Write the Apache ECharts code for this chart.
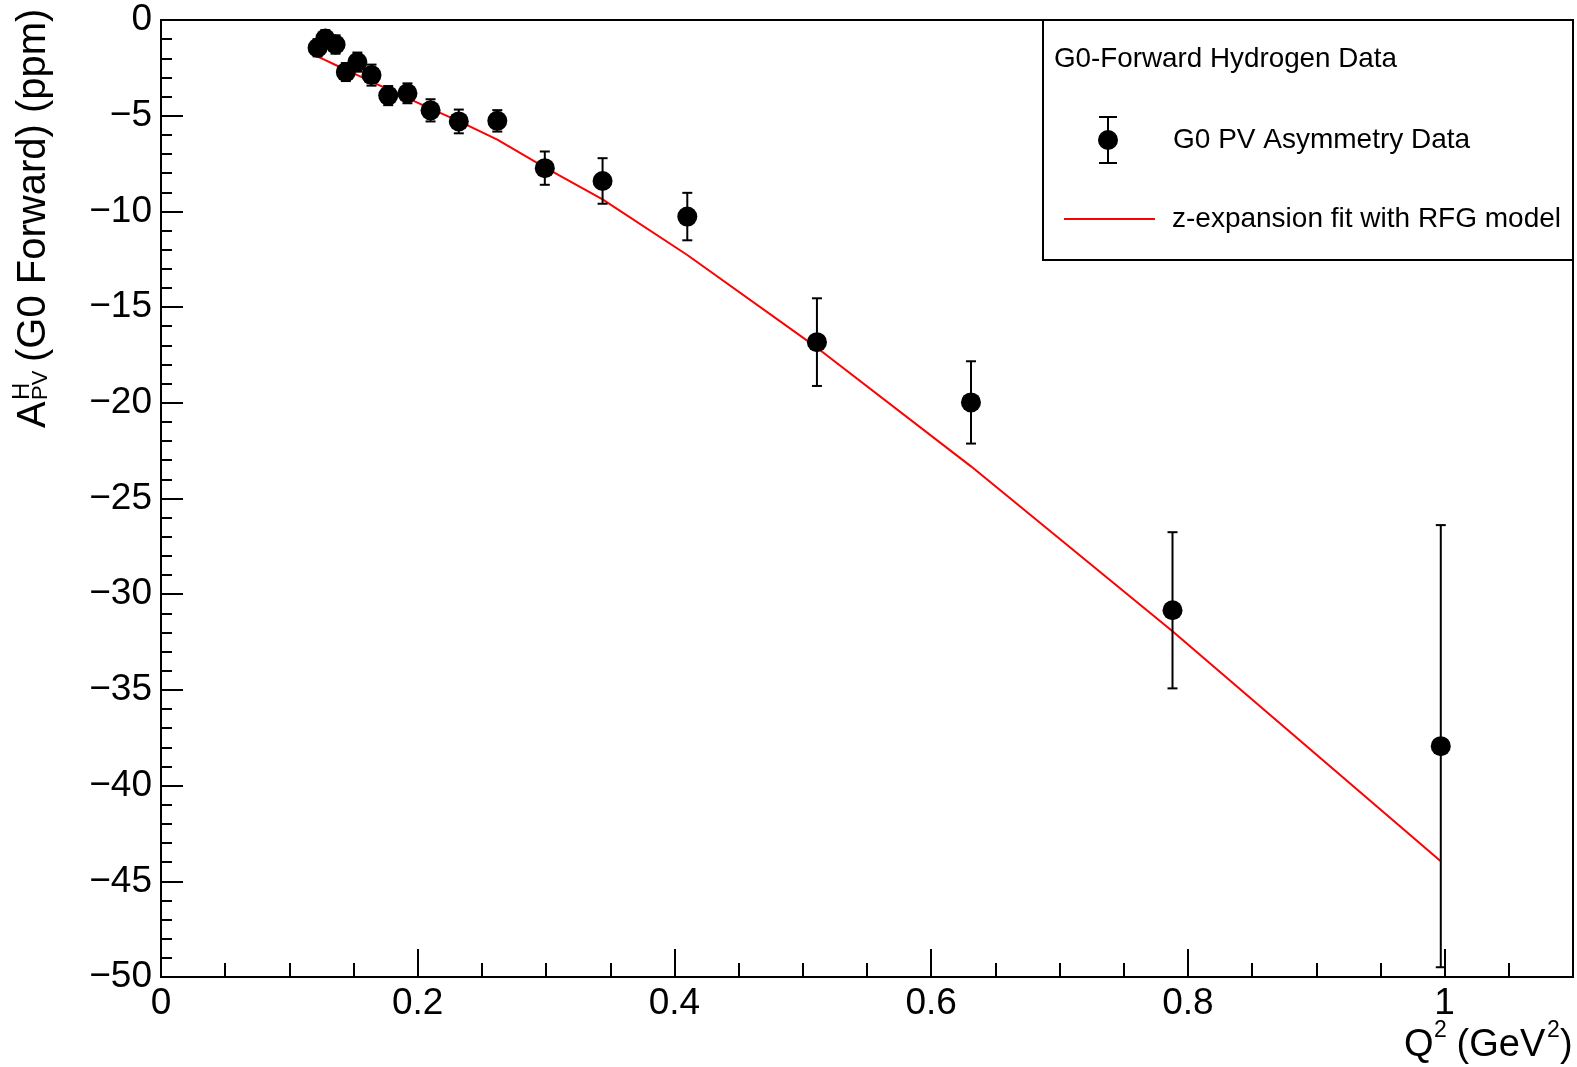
<!DOCTYPE html>
<html>
<head>
<meta charset="utf-8">
<script src="https://cdn.jsdelivr.net/npm/echarts@6/dist/echarts.min.js"></script>
<style>
html,body{margin:0;padding:0;background:#fff;}
#chart{width:1577px;height:1067px;}
</style>
</head>
<body>
<div id="chart"></div>
<script>
// Q^2 (GeV^2) of each G0 forward bin
const q2 = [0.122, 0.128, 0.136, 0.144, 0.153, 0.164, 0.177, 0.192, 0.210, 0.232, 0.262, 0.299, 0.344, 0.410, 0.511, 0.631, 0.788, 0.997];
// measured PV asymmetry (ppm)
const asym = [-1.45, -0.97, -1.28, -2.72, -2.20, -2.88, -3.95, -3.83, -4.72, -5.30, -5.27, -7.74, -8.41, -10.27, -16.83, -19.98, -30.84, -37.94];
// total uncertainty (ppm)
const asymErr = [0.45, 0.44, 0.48, 0.47, 0.50, 0.55, 0.50, 0.52, 0.58, 0.62, 0.56, 0.87, 1.19, 1.24, 2.29, 2.15, 4.08, 11.55];
// z-expansion fit with RFG model evaluated at each Q^2
const fitVals = [-1.91, -2.10, -2.35, -2.60, -2.88, -3.22, -3.62, -4.08, -4.63, -5.28, -6.25, -7.70, -9.37, -12.28, -17.12, -23.32, -31.94, -43.95];

const xTickLabels = ['0', '0.2', '0.4', '0.6', '0.8', '1'];

const FONT = "'Liberation Sans', Arial, Helvetica, sans-serif";

const chart = echarts.init(document.getElementById('chart'), null, {renderer: 'canvas'});

const errData = q2.map((x, i) => [x, asym[i], asymErr[i]]);
const ptData = q2.map((x, i) => [x, asym[i]]);
const fitData = q2.map((x, i) => [x, fitVals[i]]);

const tickStyle = {color: '#000', width: 2};

const option = {
  backgroundColor: '#fff',
  animation: false,
  grid: {left: 161, top: 20, right: 4, bottom: 90, show: true, borderColor: '#000', borderWidth: 2, backgroundColor: 'transparent'},
  xAxis: [
    {
      type: 'value', min: 0, max: 1.1, interval: 0.2, position: 'bottom',
      axisLine: {show: true, onZero: false, lineStyle: tickStyle},
      axisTick: {show: true, inside: true, length: 28, lineStyle: tickStyle},
      axisLabel: {
        show: true, showMaxLabel: false, fontSize: 37, fontFamily: FONT, color: '#000', margin: 8,
        formatter: v => { const k = Math.round(v / 0.2); return xTickLabels[k] !== undefined ? xTickLabels[k] : ''; }
      },
      splitLine: {show: false}
    },
    {
      type: 'value', min: 0, max: 1.1, interval: 0.05, position: 'bottom', offset: 0,
      axisLine: {show: false, onZero: false},
      axisTick: {show: true, inside: true, length: 14, lineStyle: tickStyle},
      axisLabel: {show: false},
      splitLine: {show: false}
    }
  ],
  yAxis: [
    {
      type: 'value', min: -50, max: 0, interval: 5, position: 'left',
      axisLine: {show: true, onZero: false, lineStyle: tickStyle},
      axisTick: {show: true, inside: true, length: 22, lineStyle: tickStyle},
      axisLabel: {
        show: true, fontSize: 37, fontFamily: FONT, color: '#000', margin: 9,
        formatter: v => v === 0 ? '0' : (v < 0 ? '\u2212' + Math.abs(v) : String(v))
      },
      splitLine: {show: false}
    },
    {
      type: 'value', min: -50, max: 0, interval: 1, position: 'left', offset: 0,
      axisLine: {show: false, onZero: false},
      axisTick: {show: true, inside: true, length: 11, lineStyle: tickStyle},
      axisLabel: {show: false},
      splitLine: {show: false}
    }
  ],
  series: [
    {
      type: 'line', name: 'fit', data: fitData, xAxisIndex: 0, yAxisIndex: 0,
      showSymbol: false, symbol: 'none', smooth: false,
      lineStyle: {color: '#ff0000', width: 2}, z: 3
    },
    {
      type: 'custom', name: 'err', data: errData, xAxisIndex: 0, yAxisIndex: 0,
      encode: {x: 0, y: 1},
      renderItem: function (params, api) {
        const x = api.value(0), y = api.value(1), e = api.value(2);
        const top = api.coord([x, y + e]);
        const bot = api.coord([x, y - e]);
        const w = 5;
        const st = {stroke: '#000', lineWidth: 2};
        return {
          type: 'group',
          children: [
            {type: 'line', shape: {x1: top[0], y1: top[1], x2: bot[0], y2: bot[1]}, style: st},
            {type: 'line', shape: {x1: top[0] - w, y1: top[1], x2: top[0] + w, y2: top[1]}, style: st},
            {type: 'line', shape: {x1: bot[0] - w, y1: bot[1], x2: bot[0] + w, y2: bot[1]}, style: st}
          ]
        };
      },
      z: 4
    },
    {
      type: 'scatter', name: 'data', data: ptData, xAxisIndex: 0, yAxisIndex: 0,
      symbol: 'circle', symbolSize: 20,
      itemStyle: {color: '#000', opacity: 1}, z: 5
    }
  ],
  graphic: [
    // Y axis title
    {
      type: 'group', x: 34, y: 428, rotation: Math.PI / 2,
      children: [
        {type: 'text', x: 0, y: 0, style: {text: 'A', font: '40px ' + FONT, fill: '#000', align: 'left', verticalAlign: 'middle'}},
        {type: 'text', x: 28, y: -12, style: {text: 'H', font: '24px ' + FONT, fill: '#000', align: 'left', verticalAlign: 'middle'}},
        {type: 'text', x: 28, y: 7, style: {text: 'PV', font: '22px ' + FONT, fill: '#000', align: 'left', verticalAlign: 'middle'}},
        {type: 'text', x: 66, y: 0, style: {text: '(G0 Forward) (ppm)', font: '40px ' + FONT, fill: '#000', align: 'left', verticalAlign: 'middle'}}
      ]
    },
    // X axis title
    {type: 'text', x: 1404, y: 1046, style: {text: 'Q', font: '38px ' + FONT, fill: '#000', align: 'left', verticalAlign: 'middle'}},
    {type: 'text', x: 1434, y: 1031, style: {text: '2', font: '23px ' + FONT, fill: '#000', align: 'left', verticalAlign: 'middle'}},
    {type: 'text', x: 1446, y: 1046, style: {text: ' (GeV', font: '38px ' + FONT, fill: '#000', align: 'left', verticalAlign: 'middle'}},
    {type: 'text', x: 1547, y: 1031, style: {text: '2', font: '23px ' + FONT, fill: '#000', align: 'left', verticalAlign: 'middle'}},
    {type: 'text', x: 1560, y: 1046, style: {text: ')', font: '38px ' + FONT, fill: '#000', align: 'left', verticalAlign: 'middle'}},
    // Legend box
    {type: 'rect', shape: {x: 1043, y: 20, width: 530, height: 240}, style: {fill: '#fff', stroke: '#000', lineWidth: 2}, z: 10},
    {type: 'text', x: 1054, y: 59, z: 11, style: {text: 'G0-Forward Hydrogen Data', font: '27.8px ' + FONT, fill: '#000', align: 'left', verticalAlign: 'middle'}},
    {type: 'line', z: 11, shape: {x1: 1108, y1: 117, x2: 1108, y2: 163}, style: {stroke: '#000', lineWidth: 2}},
    {type: 'line', z: 11, shape: {x1: 1099, y1: 117, x2: 1117, y2: 117}, style: {stroke: '#000', lineWidth: 2}},
    {type: 'line', z: 11, shape: {x1: 1099, y1: 163, x2: 1117, y2: 163}, style: {stroke: '#000', lineWidth: 2}},
    {type: 'circle', z: 12, shape: {cx: 1108, cy: 140, r: 10}, style: {fill: '#000'}},
    {type: 'text', x: 1173, y: 140, z: 11, style: {text: 'G0 PV Asymmetry Data', font: '28px ' + FONT, fill: '#000', align: 'left', verticalAlign: 'middle'}},
    {type: 'line', z: 11, shape: {x1: 1064, y1: 219, x2: 1155, y2: 219}, style: {stroke: '#ff0000', lineWidth: 2}},
    {type: 'text', x: 1172, y: 219, z: 11, style: {text: 'z-expansion fit with RFG model', font: '28px ' + FONT, fill: '#000', align: 'left', verticalAlign: 'middle'}}
  ]
};

chart.setOption(option);
</script>
</body>
</html>
